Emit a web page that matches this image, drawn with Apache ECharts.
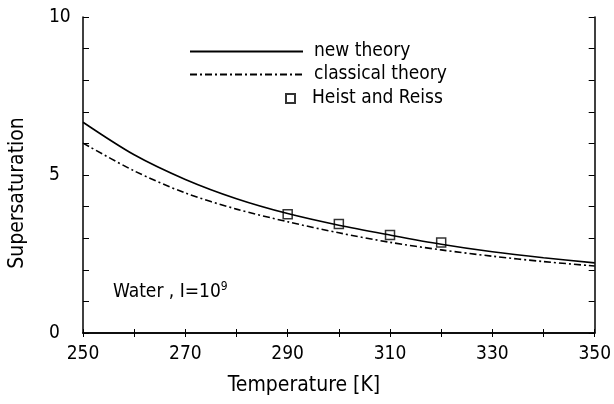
<!DOCTYPE html>
<html>
<head>
<meta charset="utf-8">
<script src="https://cdn.jsdelivr.net/npm/echarts@6/dist/echarts.min.js"></script>
<style>
html,body{margin:0;padding:0;background:#fff;}
#chart{width:614px;height:404px;}
</style>
</head>
<body>
<div id="chart"></div>
<script>
const temperatures = [250, 260, 270, 280, 290, 300, 310, 320, 330, 340, 350];
const newTheory = [6.67, 5.64, 4.86, 4.25, 3.78, 3.41, 3.10, 2.81, 2.57, 2.38, 2.22];
const classicalTheory = [6.01, 5.13, 4.43, 3.92, 3.52, 3.17, 2.87, 2.63, 2.43, 2.26, 2.12];
const heistTemps = [290, 300, 310, 320];
const heistValues = [3.76, 3.45, 3.10, 2.86];
const xLabels = [250, 270, 290, 310, 330, 350];
const yLabels = [0, 5, 10];

const FONT = '"DejaVu Sans Condensed", "Liberation Sans Narrow", "DejaVu Sans", sans-serif';
const pairs = (xs, ys) => xs.map((x, i) => [x, ys[i]]);

const chart = echarts.init(document.getElementById('chart'), null, {renderer: 'canvas'});

const axisLine = {show: true, lineStyle: {color: '#000', width: 1.5}};
const xBase = {type: 'value', min: 250, max: 350, interval: 10, splitLine: {show: false},
  axisLine: axisLine, axisTick: {show: true, inside: true, length: 4, lineStyle: {color: '#000', width: 1}}};
const yBase = {type: 'value', min: 0, max: 10, interval: 1, splitLine: {show: false},
  axisLine: axisLine, axisTick: {show: true, inside: true, length: 6, lineStyle: {color: '#000', width: 1}}};

chart.setOption({
  animation: false,
  backgroundColor: '#fff',
  grid: {left: 83, right: 17, top: 17, bottom: 71, containLabel: false},
  xAxis: [
    Object.assign({}, xBase, {position: 'bottom',
      axisLabel: {show: true, color: '#000', fontFamily: FONT, fontSize: 19, margin: 12,
        formatter: v => xLabels.indexOf(v) >= 0 ? String(v) : ''}}),
    Object.assign({}, xBase, {position: 'top', axisLabel: {show: false}})
  ],
  yAxis: [
    Object.assign({}, yBase, {position: 'left',
      axisLabel: {show: true, color: '#000', fontFamily: FONT, fontSize: 19, margin: 34, align: 'left',
        formatter: v => yLabels.indexOf(v) >= 0 ? String(v) : ''}}),
    Object.assign({}, yBase, {position: 'right', axisLabel: {show: false}})
  ],
  legend: [
    {
      data: ['new theory', 'classical theory'],
      orient: 'vertical', left: 189, top: 42, padding: 0,
      itemWidth: 113, itemHeight: 14, itemGap: 4,
      itemStyle: {opacity: 0},
      textStyle: {color: '#000', fontFamily: FONT, fontSize: 19, padding: [0, 0, 0, 6]},
      selectedMode: false
    },
    {
      data: ['Heist and Reiss'],
      orient: 'vertical', left: 285, top: 89, padding: 0,
      itemWidth: 9, itemHeight: 9,
      textStyle: {color: '#000', fontFamily: FONT, fontSize: 19, padding: [0, 0, 0, 12]},
      selectedMode: false
    }
  ],
  graphic: [
    {type: 'text', left: 113, top: 281,
      style: {text: '{a|Water , I=10}{s|9}', fill: '#000',
        rich: {a: {fontFamily: FONT, fontSize: 19, fill: '#000'},
               s: {fontFamily: FONT, fontSize: 12, fill: '#000', verticalAlign: 'top', padding: [0, 0, 10, 0]}}}},
    {type: 'text', x: 18, y: 193, rotation: Math.PI / 2,
      style: {text: 'Supersaturation', fill: '#000', fontFamily: FONT, fontSize: 21, align: 'center', verticalAlign: 'middle'}},
    {type: 'text', x: 304, y: 386,
      style: {text: 'Temperature [K]', fill: '#000', fontFamily: FONT, fontSize: 21, align: 'center', verticalAlign: 'middle'}}
  ],
  series: [
    {name: 'new theory', type: 'line', data: pairs(temperatures, newTheory), smooth: 0.3,
      symbol: 'none', lineStyle: {color: '#000', width: 1.6, type: 'solid'}, itemStyle: {color: '#000'}},
    {name: 'classical theory', type: 'line', data: pairs(temperatures, classicalTheory), smooth: 0.3,
      symbol: 'none', lineStyle: {color: '#000', width: 1.6, type: [7, 3, 2, 3]}, itemStyle: {color: '#000'}},
    {name: 'Heist and Reiss', type: 'scatter', data: pairs(heistTemps, heistValues), symbol: 'rect', symbolSize: 9,
      itemStyle: {color: '#fff', borderColor: '#000', borderWidth: 1.5}}
  ]
});
</script>
</body>
</html>
